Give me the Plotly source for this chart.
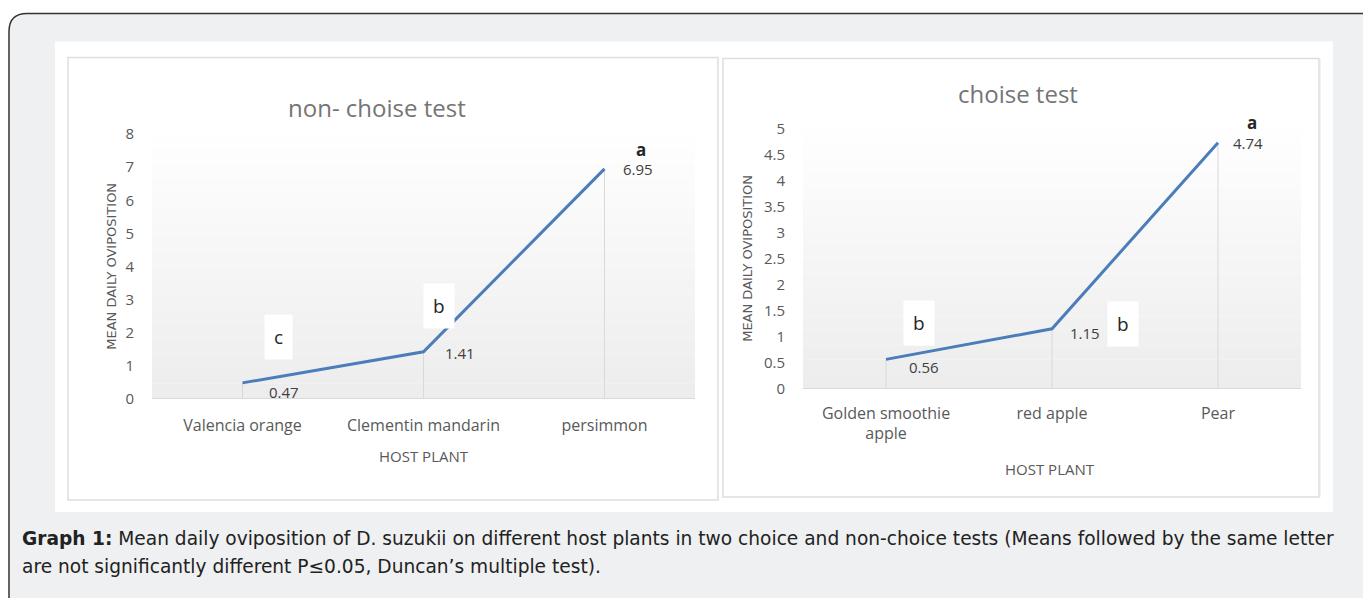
import plotly.graph_objects as go

# ---------------- data ----------------
nc_hosts = ["Valencia orange", "Clementin mandarin", "persimmon"]
nc_values = [0.47, 1.41, 6.95]
nc_letters = ["c", "b", "a"]
nc_title = "non- choise test"
nc_yticks = [0, 1, 2, 3, 4, 5, 6, 7, 8]

c_hosts = ["Golden smoothie<br>apple", "red apple", "Pear"]
c_values = [0.56, 1.15, 4.74]
c_letters = ["b", "b", "a"]
c_title = "choise test"
c_yticks = [0, 0.5, 1, 1.5, 2, 2.5, 3, 3.5, 4, 4.5, 5]

x_title = "HOST PLANT"
y_title = "MEAN DAILY OVIPOSITION"
caption_bold = "Graph 1:"
caption_line1 = (" Mean daily oviposition of D. suzukii on different host plants in two choice "
                 "and non-choice tests (Means followed by the same letter")
caption_line2 = "are not significantly different P\u22640.05, Duncan\u2019s multiple test)."

# ---------------- layout helpers ----------------
W, H = 1363, 598
Y0, HY = 9.4, 579.8   # vertical placement of the paper area as it is photographed
def px(x):
    return x / W
def py(y):
    return 1 - (y - Y0) / HY

FONT = "Open Sans"
WIDE = "DejaVu Sans"
LINE_COLOR = "#4a7dba"
TICK_COLOR = "#595959"

# label offsets (px) relative to each point: (value label dx, dy, letter dx, dy)
nc_offsets = [(41, -9, 36, 46), (36, -1, 15, 46), (33, 0, 36, 19)]
c_offsets = [(38, -8, 33, 36), (33, -4, 71, 5), (30, 0, 34, 20)]

fig = go.Figure()

def add_panel(hosts, values, xa, ya):
    for h, v in zip(hosts, values):
        fig.add_trace(go.Scatter(x=[h, h], y=[0, v], mode="lines",
                                 line=dict(color="#d9d9d9", width=1),
                                 xaxis=xa, yaxis=ya, hoverinfo="skip", showlegend=False))
    fig.add_trace(go.Scatter(x=hosts, y=values, mode="lines",
                             line=dict(color=LINE_COLOR, width=3),
                             xaxis=xa, yaxis=ya, showlegend=False))

add_panel(nc_hosts, nc_values, "x", "y")
add_panel(c_hosts, c_values, "x2", "y2")

annotations = []
def add_labels(hosts, values, letters, offsets, xr, yr):
    for h, v, l, off in zip(hosts, values, letters, offsets):
        annotations.append(dict(x=h, y=v, xref=xr, yref=yr, text=f"{v:.2f}",
                                xanchor="center", yanchor="middle",
                                showarrow=False, xshift=off[0], yshift=off[1],
                                font=dict(family=FONT, size=15, color="#404040")))
        bold = (l == "a")
        annotations.append(dict(x=h, y=v, xref=xr, yref=yr,
                                text=(f"<b>{l}</b>" if bold else l),
                                xanchor="center", yanchor="middle",
                                showarrow=False, xshift=off[2], yshift=off[3],
                                bgcolor=None if bold else "white",
                                borderpad=0 if bold else 9,
                                font=dict(family=FONT, size=17 if bold else 19, color="#262626")))

add_labels(nc_hosts, nc_values, nc_letters, nc_offsets, "x", "y")
add_labels(c_hosts, c_values, c_letters, c_offsets, "x2", "y2")

def paper_text(x, y, text, size, color, angle=0, family=FONT, xanchor="center"):
    annotations.append(dict(x=px(x), y=py(y), xref="paper", yref="paper", text=text,
                            xanchor=xanchor, yanchor="middle", textangle=angle,
                            showarrow=False, font=dict(family=family, size=size, color=color)))

# chart titles
paper_text(377, 106, nc_title, 24, "#757575")
paper_text(1018, 92, c_title, 24, "#757575")
# axis titles
paper_text(424, 456, x_title, 15, TICK_COLOR)
paper_text(1050, 469, x_title, 15, TICK_COLOR)
paper_text(112, 266, y_title, 13, TICK_COLOR, angle=-90, family=WIDE)
paper_text(748, 258, y_title, 13, TICK_COLOR, angle=-90, family=WIDE)
# caption
paper_text(20, 539, f"<b>{caption_bold}</b>{caption_line1}", 18.6, "#222222",
           family=WIDE, xanchor="left")
paper_text(20, 567, caption_line2, 18.6, "#222222", family=WIDE, xanchor="left")

# ---------------- shapes (background) ----------------
shapes = []
shapes.append(dict(type="path", xref="paper", yref="paper", layer="below",
                   path=f"M {px(9)},{py(610)} L {px(9)},{py(30)} Q {px(9)},{py(12)} {px(27)},{py(12)} "
                        f"L {px(1365)},{py(12)} L {px(1365)},{py(610)} Z",
                   fillcolor="#eff0f1", line=dict(width=0)))
shapes.append(dict(type="path", xref="paper", yref="paper", layer="above",
                   path=f"M {px(9)},{py(610)} L {px(9)},{py(30)} Q {px(9)},{py(12)} {px(27)},{py(12)} "
                        f"L {px(1365)},{py(12)}",
                   line=dict(color="#333333", width=1.5)))
shapes.append(dict(type="rect", xref="paper", yref="paper", layer="below",
                   x0=px(55), x1=px(1333), y0=py(512), y1=py(40),
                   fillcolor="white", line=dict(width=0)))
for (x0, x1, y0, y1) in [(68, 718, 56, 500), (723, 1319, 57, 497)]:
    shapes.append(dict(type="rect", xref="paper", yref="paper", layer="below",
                       x0=px(x0), x1=px(x1), y0=py(y1), y1=py(y0),
                       fillcolor="white", line=dict(color="#dedede", width=1.5)))
shapes.append(dict(type="line", xref="paper", yref="paper", layer="below",
                   x0=px(1320), x1=px(1320), y0=py(497), y1=py(57),
                   line=dict(color="#e6e6e6", width=1)))

def gradient(x0, x1, y_bottom, y_top, n=18):
    for i in range(n):
        t = (i + 0.5) / n
        g = int(round(255 - (255 - 236) * t))
        ya = y_top + (y_bottom - y_top) * i / n
        yb = y_top + (y_bottom - y_top) * (i + 1) / n
        shapes.append(dict(type="rect", xref="paper", yref="paper", layer="below",
                           x0=px(x0), x1=px(x1), y0=py(yb), y1=py(ya),
                           fillcolor=f"rgb({g},{g},{g})", line=dict(width=0)))

gradient(152, 695, 398, 133)
gradient(803, 1301, 388, 128)

axis_common = dict(showgrid=False, zeroline=False, ticks="", fixedrange=True)

fig.update_layout(
    width=W, height=H, autosize=False,
    margin=dict(l=0, r=0, t=0, b=0, pad=0),
    paper_bgcolor="white", plot_bgcolor="rgba(0,0,0,0)",
    showlegend=False,
    xaxis=dict(domain=[px(152), px(695)], anchor="y", type="category",
               range=[-0.5, 2.5], showline=True, linecolor="#d9d9d9", linewidth=1,
               tickfont=dict(family=FONT, size=16, color=TICK_COLOR),
               ticklabelstandoff=12, **axis_common),
    yaxis=dict(domain=[py(398), py(133)], anchor="x", range=[0, 8],
               tickvals=nc_yticks, showline=False,
               tickfont=dict(family=FONT, size=15, color=TICK_COLOR),
               ticklabelstandoff=17, **axis_common),
    xaxis2=dict(domain=[px(803), px(1301)], anchor="y2", type="category",
                range=[-0.5, 2.5], showline=True, linecolor="#d9d9d9", linewidth=1,
                tickfont=dict(family=FONT, size=16, color=TICK_COLOR),
                ticklabelstandoff=10, **axis_common),
    yaxis2=dict(domain=[py(388), py(128)], anchor="x2", range=[0, 5],
                tickvals=c_yticks, showline=False,
                tickfont=dict(family=FONT, size=15, color=TICK_COLOR),
                ticklabelstandoff=17, **axis_common),
    annotations=annotations,
    shapes=shapes,
)

post = (
    "document.documentElement.style.margin='0';document.documentElement.style.padding='0';"
    "document.body.style.margin='0';document.body.style.padding='0';"
    "document.documentElement.style.overflow='hidden';document.body.style.overflow='hidden';"
    "var gd=document.getElementById('{plot_id}');"
    "gd.style.position='fixed';gd.style.left='0px';gd.style.top='0px';"
)
fig.write_html("out.html", config={"displayModeBar": False}, post_script=post)
